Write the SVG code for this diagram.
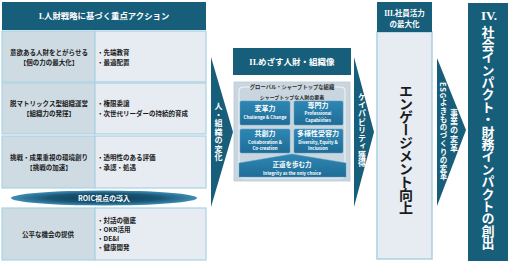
<svg xmlns="http://www.w3.org/2000/svg" width="510" height="263" viewBox="0 0 510 263">
<defs>
<style>
.t{font-family:'Noto Sans CJK JP','Noto Sans',sans-serif;font-weight:bold;}
.rn{font-family:'Liberation Serif',serif;font-weight:bold;}
.dark{fill:#175e7a;}
.cl{fill:#cfdbe3;stroke:#a9d2e2;stroke-width:1.2;}
.cr{fill:#e7ecf2;stroke:#a9d2e2;stroke-width:1.2;}
.w{fill:#ffffff;}
.k{fill:#1a1a1a;}
.g{fill:#2b2b2b;}
.v{writing-mode:vertical-rl;}
.bb{fill:url(#bg);stroke:#5b9fc3;stroke-width:0.5;}
</style>
<radialGradient id="eg" cx="0.5" cy="0.5" r="0.5">
<stop offset="0" stop-color="#0d3a56"/>
<stop offset="0.6" stop-color="#195676"/>
<stop offset="1" stop-color="#3f8db4"/>
</radialGradient>
<linearGradient id="bg" x1="0" y1="0" x2="0" y2="1">
<stop offset="0" stop-color="#2f87b4"/>
<stop offset="1" stop-color="#1e6d97"/>
</linearGradient>
</defs>
<rect width="510" height="263" fill="#ffffff"/>

<g id="actions">
<rect class="dark" x="2" y="2" width="204" height="28"/>
<text class="t w" x="104" y="19" font-size="8.4" text-anchor="middle"><tspan class="rn">I.</tspan>人財戦略に基づく重点アクション</text>
<rect class="cl" x="2" y="31" width="93" height="51"/>
<rect class="cr" x="95" y="31" width="111" height="51"/>
<rect class="cl" x="2" y="83" width="93" height="51"/>
<rect class="cr" x="95" y="83" width="111" height="51"/>
<rect class="cl" x="2" y="136" width="93" height="52"/>
<rect class="cr" x="95" y="136" width="111" height="52"/>
<rect class="cl" x="2" y="208" width="93" height="52"/>
<rect class="cr" x="95" y="208" width="111" height="52"/>
<g class="t k" font-size="6.5">
<text x="49" y="54.5" text-anchor="middle">意欲ある人財をとがらせる</text>
<text x="49" y="64.5" text-anchor="middle">【個の力の最大化】</text>
<text x="97" y="54.5">・先端教育</text>
<text x="97" y="64.5">・最適配置</text>
<text x="49" y="105.5" text-anchor="middle">脱マトリックス型組織運営</text>
<text x="49" y="115.5" text-anchor="middle">【組織力の発揮】</text>
<text x="97" y="105.5">・権限委譲</text>
<text x="97" y="115.5">・次世代リーダーの持続的育成</text>
<text x="49" y="159.5" text-anchor="middle">挑戦・成果重視の環境創り</text>
<text x="49" y="169.5" text-anchor="middle">【挑戦の加速】</text>
<text x="97" y="159.5">・透明性のある評価</text>
<text x="97" y="169.5">・承認・処遇</text>
<text x="48" y="236.5" text-anchor="middle">公平な機会の提供</text>
<text x="97" y="222.5">・対話の徹底</text>
<text x="97" y="231.5">・OKR活用</text>
<text x="97" y="240.5">・DE&amp;I</text>
<text x="97" y="249.5">・健康開発</text>
</g>
</g>

<g id="roic">
<ellipse cx="104" cy="198" rx="93" ry="7.5" fill="url(#eg)"/>
<text class="t w" x="104" y="200.5" font-size="7" text-anchor="middle">ROIC視点の導入</text>
</g>

<g id="vision">
<rect class="dark" x="233" y="48" width="118" height="27"/>
<text class="t w" x="292" y="65" font-size="8.5" text-anchor="middle"><tspan class="rn">II.</tspan>めざす人財・組織像</text>
<rect x="234" y="82" width="116" height="99" fill="#c9d6df" stroke="#b9cad6" stroke-width="0.8"/>
<rect x="239" y="87" width="106" height="91" rx="4" fill="none" stroke="#f2f6f8" stroke-width="1"/>
<rect x="251" y="84" width="82" height="6" fill="#c9d6df"/>
<text class="t g" x="292" y="89" font-size="5.3" text-anchor="middle">グローバル・シャープトップな組織</text>
<text class="t g" x="292" y="98.7" font-size="5" text-anchor="middle">シャープトップな人財の要素</text>
<rect class="bb" x="240" y="101" width="50" height="24" rx="1.5"/>
<rect class="bb" x="294" y="101" width="49" height="24" rx="1.5"/>
<rect class="bb" x="240" y="129" width="50" height="24" rx="1.5"/>
<rect class="bb" x="294" y="129" width="49" height="24" rx="1.5"/>
<polygon class="bb" points="239,163 292,154 346,163 346,177 239,177"/>
<g class="t w" text-anchor="middle">
<text x="265" y="110.8" font-size="7">変革力</text>
<text x="265" y="118.5" font-size="4.4">Challenge &amp; Change</text>
<text x="318" y="107.5" font-size="7">専門力</text>
<text x="318" y="115" font-size="4.4">Professional</text>
<text x="318" y="121.5" font-size="4.4">Capabilities</text>
<text x="265" y="135.8" font-size="7">共創力</text>
<text x="265" y="143.8" font-size="4.4">Collaboration &amp;</text>
<text x="265" y="149.8" font-size="4.4">Co-creation</text>
<text x="318" y="135.8" font-size="7">多様性受容力</text>
<text x="318" y="143.8" font-size="4.4">Diversity, Equity &amp;</text>
<text x="318" y="149.8" font-size="4.4">Inclusion</text>
<text x="292" y="166.8" font-size="6.5">正道を歩む力</text>
<text x="292" y="174.6" font-size="4.4">Integrity as the only choice</text>
</g>
</g>

<g id="engagement">
<rect x="377" y="32" width="55" height="227" fill="#e7ecf2" stroke="#a9d2e2" stroke-width="1.5"/>
<rect class="dark" x="377" y="2" width="55" height="30"/>
<text class="t w" x="404.5" y="15.5" font-size="7.5" text-anchor="middle"><tspan class="rn">III.</tspan>社員活力</text>
<text class="t w" x="404.5" y="27" font-size="7.5" text-anchor="middle">の最大化</text>
<text class="t k v" x="406" y="149" font-size="14" letter-spacing="-1" text-anchor="middle">エンゲージメント向上</text>
</g>

<g id="impact">
<rect class="dark" x="468" y="3" width="40" height="258"/>
<text class="rn w" x="489" y="20" font-size="13" text-anchor="middle">IV.</text>
<text class="t w v" x="488" y="137.5" font-size="13" letter-spacing="-0.6" text-anchor="middle">社会インパクト・財務インパクトの創出</text>
</g>

<g id="connectors">
<polygon class="dark" points="211,57 233,132 211,207"/>
<polygon class="dark" points="354,57 374,132 354,207"/>
<polygon class="dark" points="437,58 466,130 437,206"/>
<text class="t w v" x="218.5" y="132" font-size="8" letter-spacing="0.5" text-anchor="middle">人・組織の変化</text>
<text class="t w v" x="362" y="130" font-size="8" letter-spacing="0.25" text-anchor="middle">ケイパビリティ獲得</text>
<text class="t w v" x="454" y="130.5" font-size="8" letter-spacing="0.75" text-anchor="middle">事業の変革</text>
<text class="t w v" x="443.5" y="82" font-size="7.5" letter-spacing="0.7">ESGよきものづくりの変革</text>
</g>
</svg>
